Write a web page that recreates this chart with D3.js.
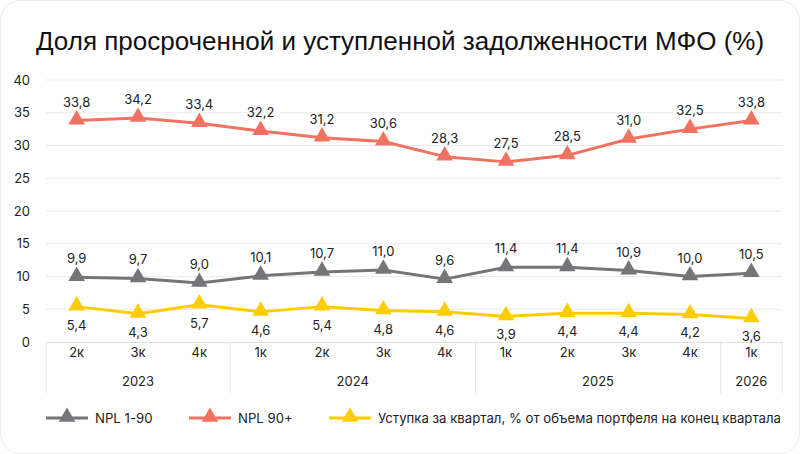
<!DOCTYPE html>
<html><head><meta charset="utf-8">
<script src="https://cdn.jsdelivr.net/npm/d3@7/dist/d3.min.js"></script>
<style>
html,body{margin:0;padding:0;background:#fff;}
svg{display:block;}
</style></head>
<body>
<svg id="c" width="800" height="454"></svg>
<script>
const quarters = ["2к","3к","4к","1к","2к","3к","4к","1к","2к","3к","4к","1к"];
const years = [
  {label:"2023", start:0, end:3},
  {label:"2024", start:3, end:7},
  {label:"2025", start:7, end:11},
  {label:"2026", start:11, end:12}
];
const npl190 = [9.9,9.7,9.0,10.1,10.7,11.0,9.6,11.4,11.4,10.9,10.0,10.5];
const npl90 = [33.8,34.2,33.4,32.2,31.2,30.6,28.3,27.5,28.5,31.0,32.5,33.8];
const assign = [5.4,4.3,5.7,4.6,5.4,4.8,4.6,3.9,4.4,4.4,4.2,3.6];
const yTicks = [0,5,10,15,20,25,30,35,40];
const seriesNames = ["NPL 1-90","NPL 90+","Уступка за квартал, % от объема портфеля на конец квартала"];

const svg = d3.select("#c");
const W=800,H=454;
const font = "Inter, 'Noto Sans', sans-serif";

svg.append("rect").attr("x",0.5).attr("y",0.5).attr("width",W-1).attr("height",H-1)
  .attr("rx",20).attr("fill","#fff").attr("stroke","#ececec");

svg.append("text").attr("x",400).attr("y",50).attr("text-anchor","middle")
  .attr("font-family","'Liberation Sans', Arial, sans-serif").attr("font-size",26)
  .attr("fill","#111").text("Доля просроченной и уступленной задолженности МФО (%)");

const x = d3.scaleBand().domain(d3.range(quarters.length)).range([46,782]);
const y = d3.scaleLinear().domain([0,40]).range([342,80]);

// grid
svg.append("g").selectAll("line").data(yTicks.filter(d=>d>0)).join("line")
  .attr("x1",46).attr("x2",782).attr("y1",d=>y(d)).attr("y2",d=>y(d))
  .attr("stroke","#ebebeb").attr("stroke-width",1);

// y axis labels
const yAxis = d3.axisLeft(y).tickValues(yTicks).tickSize(0).tickPadding(8).tickFormat(d=>d);
const ya = svg.append("g").attr("transform","translate(38,0)").call(yAxis);
ya.select(".domain").remove();
ya.selectAll("text").attr("font-family",font).attr("font-size",13).attr("fill","#222");

// x axis base
svg.append("line").attr("x1",46).attr("x2",782).attr("y1",342.5).attr("y2",342.5).attr("stroke","#e2e2e2");

const xa = d3.axisBottom(x).tickSize(0).tickPadding(6).tickFormat(i=>quarters[i]);
const xg = svg.append("g").attr("transform","translate(0,342)").call(xa);
xg.select(".domain").remove();
xg.selectAll("text").attr("font-family",font).attr("font-size",13).attr("fill","#222");

// year separators
const seps = [0].concat(years.map(d=>d.end));
svg.append("g").selectAll("line").data(seps).join("line")
  .attr("x1",d=> d<quarters.length ? x(d) : x.range()[1]).attr("x2",d=> d<quarters.length ? x(d) : x.range()[1])
  .attr("y1",342).attr("y2",393).attr("stroke","#e2e2e2");
svg.append("g").selectAll("text").data(years).join("text")
  .attr("x",d=>{const a=x(d.start); const b=d.end<quarters.length?x(d.end):x.range()[1]; return (a+b)/2;})
  .attr("y",386).attr("text-anchor","middle")
  .attr("font-family",font).attr("font-size",13).attr("fill","#222").text(d=>d.label);

const cx = i => x(i)+x.bandwidth()/2;
const tri = d3.symbol().type(d3.symbolTriangle).size(120);

const series = [
  {name:seriesNames[0], data:npl190, color:"#767478", pos:"above"},
  {name:seriesNames[1], data:npl90, color:"#f27261", pos:"above"},
  {name:seriesNames[2], data:assign, color:"#ffcc00", pos:"below"}
];
const line = d3.line().x((d,i)=>cx(i)).y(d=>y(d));
const fmt = v => d3.format(".1f")(v).replace(".",",");

series.forEach(s=>{
  const g = svg.append("g");
  g.append("path").datum(s.data).attr("d",line).attr("fill","none")
    .attr("stroke",s.color).attr("stroke-width",3).attr("stroke-linejoin","round");
  g.selectAll("path.m").data(s.data).join("path").attr("class","m")
    .attr("d",tri).attr("transform",(d,i)=>`translate(${cx(i)},${y(d)-1})`).attr("fill",s.color);
  g.selectAll("text").data(s.data).join("text")
    .attr("x",(d,i)=>cx(i)).attr("y",d=> s.pos==="above" ? y(d)-14 : y(d)+23)
    .attr("text-anchor","middle").attr("font-family",font).attr("font-size",13).attr("fill","#222")
    .text(fmt);
});

// legend
const legX = [46,189,329];
series.forEach((s,k)=>{
  const g = svg.append("g").attr("transform",`translate(${legX[k]},418)`);
  g.append("line").attr("x1",0).attr("x2",42).attr("y1",0).attr("y2",0).attr("stroke",s.color).attr("stroke-width",3);
  g.append("path").attr("d",tri).attr("transform","translate(21,-1)").attr("fill",s.color);
  g.append("text").attr("x",49).attr("y",5).attr("font-family",font).attr("font-size",13.2).attr("fill","#222").text(s.name);
});
</script>
</body></html>
